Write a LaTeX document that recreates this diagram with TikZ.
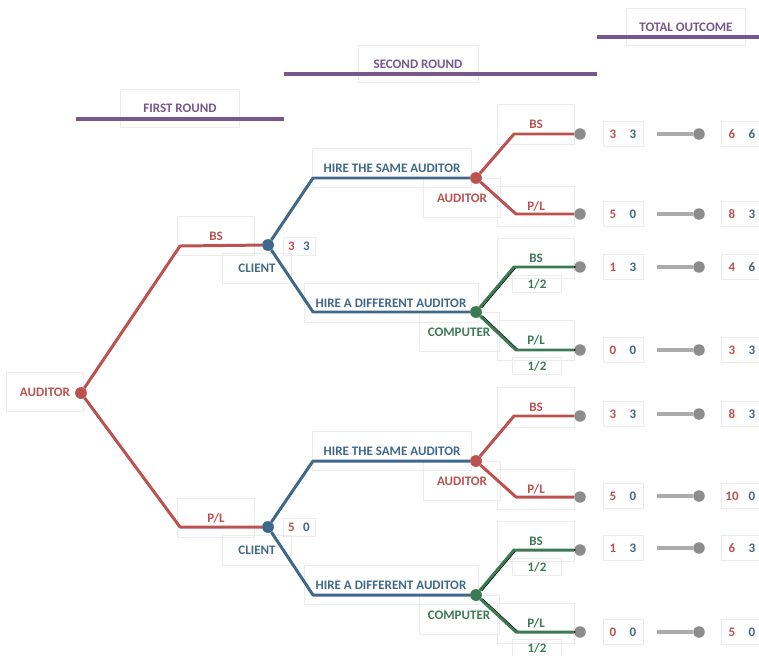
\documentclass[tikz,border=0pt]{standalone}
\usepackage{fontspec}
\setmainfont{Carlito}
\usepackage{xcolor}
\usepackage{tikz}
\definecolor{audred}{RGB}{187,82,80}
\definecolor{cliblue}{RGB}{64,104,138}
\definecolor{compgreen}{RGB}{60,122,84}
\definecolor{headpurple}{RGB}{118,88,138}
\definecolor{dotgrey}{RGB}{140,140,140}
\definecolor{linegrey}{RGB}{172,172,172}
\definecolor{boxgrey}{RGB}{236,236,236}
\newcommand{\pay}[3][0.4cm]{\makebox[#1]{\textcolor{audred}{#2}}\makebox[#1]{\textcolor{cliblue}{#3}}}
\tikzset{
    txt/.style={font=\fontsize{7.4}{8}\selectfont\bfseries, inner sep=0pt},
    frm/.style 2 args={draw=boxgrey, line width=0.4pt, minimum width=#1, minimum height=#2},
    dot/.style={shape=circle, fill=#1, draw=none, minimum size=0.23cm, inner sep=0pt},
    rbranch/.style={audred, line width=1.7pt, line join=round},
    bbranch/.style={cliblue, line width=1.7pt, line join=round},
    gbranch/.style={compgreen, line width=1.7pt, line join=round,
        preaction={draw=black, line width=1.1pt, transform canvas={xshift=0.9pt}}},
    rule/.style={headpurple, line width=1.9pt},
    link/.style={linegrey, line width=2.3pt, shorten <=0.28cm}}

\begin{document}
\begin{tikzpicture}[x=0.02cm, y=-0.02cm]
    \useasboundingbox (0,0) rectangle (759,655);

    % headers
    \node[txt, text=headpurple, frm={2.38cm}{0.76cm}] (H1) at (180,108) {FIRST ROUND};
    \node[txt, text=headpurple, frm={2.4cm}{0.74cm}] (H2) at (418,64) {SECOND ROUND};
    \node[txt, text=headpurple, frm={2.38cm}{0.74cm}] (H3) at (686,27) {TOTAL OUTCOME};
    \coordinate (h1a) at (76,119);  \coordinate (h1b) at (284,119);
    \coordinate (h2a) at (284,74);  \coordinate (h2b) at (597,74);
    \coordinate (h3a) at (597,37);  \coordinate (h3b) at (759,37);
    \draw[rule] (h1a) -- (h1b);
    \draw[rule] (h2a) -- (h2b);
    \draw[rule] (h3a) -- (h3b);

    % labels
    \node[txt, text=audred, frm={1.54cm}{0.78cm}] (lA) at (45,392) {AUDITOR};
    \node[txt, text=audred, frm={1.54cm}{0.78cm}] (lBS) at (216,236) {BS};
    \node[txt, text=audred, frm={1.54cm}{0.78cm}] (lPL) at (216,518) {P/L};
    \node[txt, text=cliblue, frm={1.38cm}{0.6cm}] (lC1) at (257,268) {CLIENT};
    \node[txt, text=cliblue, frm={1.38cm}{0.6cm}] (lC2) at (257,550) {CLIENT};
    \node[txt, frm={0.64cm}{0.36cm}] (pC1) at (299,246) {\pay[0.3cm]{3}{3}};
    \node[txt, frm={0.64cm}{0.36cm}] (pC2) at (299,527) {\pay[0.3cm]{5}{0}};
    \node[txt, text=cliblue, frm={3.18cm}{0.78cm}] (lS1) at (392,168) {HIRE THE SAME AUDITOR};
    \node[txt, text=cliblue, frm={3.48cm}{0.78cm}] (lD1) at (391,303) {HIRE A DIFFERENT AUDITOR};
    \node[txt, text=cliblue, frm={3.18cm}{0.78cm}] (lS2) at (392,451) {HIRE THE SAME AUDITOR};
    \node[txt, text=cliblue, frm={3.48cm}{0.78cm}] (lD2) at (391,585) {HIRE A DIFFERENT AUDITOR};
    \node[txt, text=audred, frm={1.54cm}{0.78cm}] (lR1) at (462,198) {AUDITOR};
    \node[txt, text=audred, frm={1.54cm}{0.78cm}] (lR2) at (462,481) {AUDITOR};
    \node[txt, text=compgreen, frm={1.6cm}{0.78cm}] (lN1) at (459,332) {COMPUTER};
    \node[txt, text=compgreen, frm={1.6cm}{0.78cm}] (lN2) at (459,615) {COMPUTER};

    \node[txt, text=audred, frm={1.54cm}{0.8cm}] (l1) at (536,124) {BS};
    \node[txt, text=audred, frm={1.54cm}{0.8cm}] (l2) at (536,206) {P/L};
    \node[txt, text=compgreen, frm={1.54cm}{0.8cm}] (l3) at (536,258) {BS};
    \node[txt, text=compgreen, frm={0.98cm}{0.34cm}] (q3) at (537,284) {1/2};
    \node[txt, text=compgreen, frm={1.54cm}{0.8cm}] (l4) at (536,340) {P/L};
    \node[txt, text=compgreen, frm={0.98cm}{0.34cm}] (q4) at (537,366) {1/2};
    \node[txt, text=audred, frm={1.54cm}{0.8cm}] (l5) at (536,407) {BS};
    \node[txt, text=audred, frm={1.54cm}{0.8cm}] (l6) at (536,489) {P/L};
    \node[txt, text=compgreen, frm={1.54cm}{0.8cm}] (l7) at (536,541) {BS};
    \node[txt, text=compgreen, frm={0.98cm}{0.34cm}] (q7) at (537,567) {1/2};
    \node[txt, text=compgreen, frm={1.54cm}{0.8cm}] (l8) at (536,623) {P/L};
    \node[txt, text=compgreen, frm={0.98cm}{0.34cm}] (q8) at (537,648) {1/2};

    % decision nodes
    \node[dot=audred] (A) at (81,393) {};
    \node[dot=cliblue] (C1) at (268,245) {};
    \node[dot=cliblue] (C2) at (268,527) {};
    \node[dot=audred] (R1) at (476,178) {};
    \node[dot=compgreen] (N1) at (476,312) {};
    \node[dot=audred] (R2) at (476,461) {};
    \node[dot=compgreen] (N2) at (476,595) {};

    % end points
    \node[dot=dotgrey] (E1) at (580,134) {};
    \node[dot=dotgrey] (E2) at (580,214) {};
    \node[dot=dotgrey] (E3) at (580,267) {};
    \node[dot=dotgrey] (E4) at (580,350) {};
    \node[dot=dotgrey] (E5) at (580,416) {};
    \node[dot=dotgrey] (E6) at (580,497) {};
    \node[dot=dotgrey] (E7) at (580,550) {};
    \node[dot=dotgrey] (E8) at (580,632) {};

    % corners
    \coordinate (a1) at (180,246);
    \coordinate (a2) at (180,527);
    \coordinate (c1u) at (313,178);
    \coordinate (c1d) at (313,312);
    \coordinate (c2u) at (313,461);
    \coordinate (c2d) at (313,595);
    \coordinate (e1) at (514,134);
    \coordinate (e2) at (516,214);
    \coordinate (e3) at (514,267);
    \coordinate (e4) at (516,350);
    \coordinate (e5) at (514,416);
    \coordinate (e6) at (516,497);
    \coordinate (e7) at (514,550);
    \coordinate (e8) at (516,632);

    % branches
    \draw[rbranch] (A) -- (a1) -- (C1);
    \draw[rbranch] (A) -- (a2) -- (C2);
    \draw[bbranch] (C1) -- (c1u) -- (R1);
    \draw[bbranch] (C1) -- (c1d) -- (N1);
    \draw[bbranch] (C2) -- (c2u) -- (R2);
    \draw[bbranch] (C2) -- (c2d) -- (N2);
    \draw[rbranch] (R1) -- (e1) -- (E1);
    \draw[rbranch] (R1) -- (e2) -- (E2);
    \draw[gbranch] (N1) -- (e3) -- (E3);
    \draw[gbranch] (N1) -- (e4) -- (E4);
    \draw[rbranch] (R2) -- (e5) -- (E5);
    \draw[rbranch] (R2) -- (e6) -- (E6);
    \draw[gbranch] (N2) -- (e7) -- (E7);
    \draw[gbranch] (N2) -- (e8) -- (E8);
    \node[dot=audred] at (A) {};
    \node[dot=cliblue] at (C1) {};
    \node[dot=cliblue] at (C2) {};
    \node[dot=audred] at (R1) {};
    \node[dot=compgreen] at (N1) {};
    \node[dot=audred] at (R2) {};
    \node[dot=compgreen] at (N2) {};

    % payoffs
    \node[txt, frm={0.78cm}{0.5cm}] (P1) at (623,134) {\pay{3}{3}};
    \node[txt, frm={0.78cm}{0.5cm}] (P2) at (623,214) {\pay{5}{0}};
    \node[txt, frm={0.78cm}{0.5cm}] (P3) at (623,267) {\pay{1}{3}};
    \node[txt, frm={0.78cm}{0.5cm}] (P4) at (623,350) {\pay{0}{0}};
    \node[txt, frm={0.78cm}{0.5cm}] (P5) at (623,414) {\pay{3}{3}};
    \node[txt, frm={0.78cm}{0.5cm}] (P6) at (623,496) {\pay{5}{0}};
    \node[txt, frm={0.78cm}{0.5cm}] (P7) at (623,548) {\pay{1}{3}};
    \node[txt, frm={0.78cm}{0.5cm}] (P8) at (623,632) {\pay{0}{0}};

    \node[dot=dotgrey] (D1) at (699,134) {};
    \node[dot=dotgrey] (D2) at (699,214) {};
    \node[dot=dotgrey] (D3) at (699,267) {};
    \node[dot=dotgrey] (D4) at (699,350) {};
    \node[dot=dotgrey] (D5) at (699,414) {};
    \node[dot=dotgrey] (D6) at (699,496) {};
    \node[dot=dotgrey] (D7) at (699,548) {};
    \node[dot=dotgrey] (D8) at (699,632) {};
    \draw[link] (P1) -- (D1);
    \draw[link] (P2) -- (D2);
    \draw[link] (P3) -- (D3);
    \draw[link] (P4) -- (D4);
    \draw[link] (P5) -- (D5);
    \draw[link] (P6) -- (D6);
    \draw[link] (P7) -- (D7);
    \draw[link] (P8) -- (D8);

    \node[txt, frm={0.82cm}{0.5cm}] (T1) at (742,134) {\pay{6}{6}};
    \node[txt, frm={0.82cm}{0.5cm}] (T2) at (742,214) {\pay{8}{3}};
    \node[txt, frm={0.82cm}{0.5cm}] (T3) at (742,267) {\pay{4}{6}};
    \node[txt, frm={0.82cm}{0.5cm}] (T4) at (742,350) {\pay{3}{3}};
    \node[txt, frm={0.82cm}{0.5cm}] (T5) at (742,414) {\pay{8}{3}};
    \node[txt, frm={0.82cm}{0.5cm}] (T6) at (742,496) {\pay{10}{0}};
    \node[txt, frm={0.82cm}{0.5cm}] (T7) at (742,548) {\pay{6}{3}};
    \node[txt, frm={0.82cm}{0.5cm}] (T8) at (742,632) {\pay{5}{0}};

\end{tikzpicture}
\end{document}
